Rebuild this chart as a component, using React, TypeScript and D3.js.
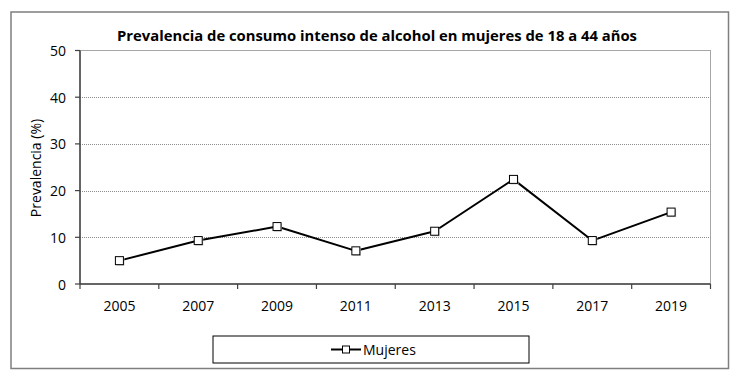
import React from "react";
import * as d3 from "d3";

const years: string[] = ["2005", "2007", "2009", "2011", "2013", "2015", "2017", "2019"];
const mujeres: number[] = [5.0, 9.3, 12.3, 7.1, 11.3, 22.4, 9.3, 15.4];
const yTicks: number[] = [0, 10, 20, 30, 40, 50];
const title = "Prevalencia de consumo intenso de alcohol en mujeres de 18 a 44 años";
const yTitle = "Prevalencia (%)";
const seriesName = "Mujeres";

const W = 738;
const H = 380;
const plot = { left: 80, right: 710.5, top: 50.5, bottom: 284 };
const FONT = "'Open Sans', 'Noto Sans', sans-serif";

export default function App() {
  const x = d3.scaleBand<string>().domain(years).range([plot.left, plot.right]).padding(0);
  const y = d3.scaleLinear().domain([0, 50]).range([plot.bottom, plot.top]);
  const line = d3
    .line<number>()
    .x((_, i) => (x(years[i]) as number) + x.bandwidth() / 2)
    .y((d) => y(d));
  const boundaries = years.map((yr) => x(yr) as number).concat([plot.right]);
  const ms = 8;

  return (
    <svg width={W} height={H} style={{ position: "absolute", left: 0, top: 0, background: "#fff" }}>
      {/* outer chart border */}
      <rect x={11} y={12} width={717.5} height={356.5} fill="#fff" stroke="#7f7f7f" strokeWidth={1.5} />
      {/* title */}
      <text x={377} y={34.5} textAnchor="middle" dominantBaseline="central" fontFamily={FONT} fontWeight="bold" fontSize={14.8} fill="#000">
        {title}
      </text>
      {/* plot area border */}
      <rect x={plot.left} y={plot.top} width={plot.right - plot.left} height={plot.bottom - plot.top} fill="none" stroke="#a6a6a6" strokeWidth={1} />
      {/* gridlines */}
      {yTicks.filter((t) => t > 0 && t < 50).map((t) => (
        <line key={"g" + t} x1={plot.left} x2={plot.right} y1={Math.round(y(t)) + 0.5} y2={Math.round(y(t)) + 0.5} stroke="#8c8c8c" strokeWidth={1} strokeDasharray="1,1" />
      ))}
      {/* y axis */}
      <line x1={plot.left} x2={plot.left} y1={plot.top} y2={plot.bottom} stroke="#404040" strokeWidth={1.5} />
      {yTicks.map((t) => (
        <g key={"y" + t}>
          <line x1={plot.left - 5} x2={plot.left} y1={y(t)} y2={y(t)} stroke="#404040" strokeWidth={1.2} />
          <text x={66} y={y(t)} textAnchor="end" dominantBaseline="central" fontFamily={FONT} fontSize={14} fill="#000">
            {t}
          </text>
        </g>
      ))}
      {/* x axis */}
      <line x1={plot.left} x2={plot.right} y1={plot.bottom} y2={plot.bottom} stroke="#404040" strokeWidth={1.5} />
      {boundaries.map((b, i) => (
        <line key={"xt" + i} x1={b} x2={b} y1={plot.bottom} y2={plot.bottom + 5} stroke="#404040" strokeWidth={1.2} />
      ))}
      {years.map((yr) => (
        <text key={"xl" + yr} x={(x(yr) as number) + x.bandwidth() / 2} y={305} textAnchor="middle" dominantBaseline="central" fontFamily={FONT} fontSize={14} fill="#000">
          {yr}
        </text>
      ))}
      {/* y title */}
      <text transform="translate(35.5,168) rotate(-90)" textAnchor="middle" dominantBaseline="central" fontFamily={FONT} fontSize={14} fill="#000">
        {yTitle}
      </text>
      {/* series line */}
      <path d={line(mujeres) || ""} fill="none" stroke="#000" strokeWidth={2} strokeLinejoin="round" />
      {mujeres.map((v, i) => {
        const cx = (x(years[i]) as number) + x.bandwidth() / 2;
        const cy = y(v);
        return (
          <g key={"m" + i}>
            <rect x={cx - ms / 2 + 1} y={cy - ms / 2 + 1} width={ms} height={ms} fill="#bfbfbf" />
            <rect x={cx - ms / 2} y={cy - ms / 2} width={ms} height={ms} fill="#fff" stroke="#000" strokeWidth={1} />
          </g>
        );
      })}
      {/* legend */}
      <rect x={213} y={336} width={316} height={27} fill="#fff" stroke="#000" strokeWidth={1} />
      <line x1={331} x2={361} y1={349.5} y2={349.5} stroke="#000" strokeWidth={2} />
      <rect x={346 - 3.5} y={349.5 - 3.5} width={7} height={7} fill="#fff" stroke="#000" strokeWidth={1} />
      <text x={363} y={349.5} dominantBaseline="central" fontFamily={FONT} fontSize={14} fill="#000">
        {seriesName}
      </text>
    </svg>
  );
}
